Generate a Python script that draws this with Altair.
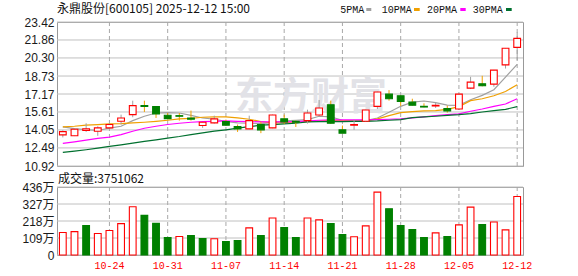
import altair as alt
import pandas as pd

# ---------------- data ----------------
dates = ["10-20", "10-21", "10-22", "10-23", "10-24", "10-27", "10-28", "10-29", "10-30", "10-31",
         "11-03", "11-04", "11-05", "11-06", "11-07", "11-10", "11-11", "11-12", "11-13", "11-14",
         "11-17", "11-18", "11-19", "11-20", "11-21", "11-24", "11-25", "11-26", "11-27", "11-28",
         "12-01", "12-02", "12-03", "12-04", "12-05", "12-08", "12-09", "12-10", "12-11", "12-12"]
opens = [13.62, 13.54, 14.00, 13.94, 14.23, 14.80, 15.38, 16.16, 16.07, 15.32,
         15.29, 15.09, 14.43, 14.66, 14.78, 14.34, 14.14, 14.52, 14.23, 15.01,
         14.80, 14.86, 15.35, 16.24, 14.06, 14.46, 14.80, 16.10, 17.16, 17.02,
         16.47, 16.10, 16.13, 15.90, 15.87, 17.68, 18.06, 18.03, 19.70, 21.22]
highs = [14.02, 14.15, 14.63, 14.37, 14.63, 15.38, 16.59, 16.59, 16.10, 15.52,
         15.52, 15.73, 14.75, 15.29, 14.95, 14.52, 15.29, 14.75, 15.38, 15.38,
         14.86, 15.81, 16.65, 16.59, 14.43, 14.95, 15.81, 17.37, 17.51, 17.05,
         16.76, 16.36, 16.39, 16.16, 17.19, 18.66, 18.75, 19.26, 21.16, 22.52]
lows = [13.40, 13.52, 13.88, 13.54, 14.17, 14.52, 15.15, 15.61, 15.09, 14.95,
        14.86, 14.86, 14.23, 14.60, 14.40, 13.88, 14.11, 13.77, 14.20, 14.57,
        14.31, 14.60, 15.21, 14.57, 13.74, 14.06, 14.75, 15.87, 16.59, 16.13,
        16.16, 16.01, 15.96, 15.55, 15.78, 17.60, 17.83, 17.80, 19.38, 20.10]
closes = [13.90, 14.11, 14.14, 14.23, 14.52, 15.09, 16.16, 16.10, 15.44, 15.03,
          15.24, 14.98, 14.72, 15.01, 14.46, 14.14, 14.86, 14.06, 15.35, 14.75,
          14.72, 15.52, 15.96, 14.63, 13.77, 14.52, 15.78, 17.34, 16.76, 16.53,
          16.19, 16.04, 16.19, 15.70, 17.16, 18.20, 17.88, 19.24, 21.14, 22.00]
ma5 = [14.31, 14.17, 14.08, 14.00, 14.20, 14.37, 14.86, 15.24, 15.52, 15.55,
       15.52, 15.32, 15.09, 14.98, 14.80, 14.66, 14.63, 14.60, 14.69, 14.83,
       14.89, 14.95, 15.24, 15.18, 14.89, 14.80, 14.86, 15.09, 15.58, 16.10,
       16.47, 16.56, 16.42, 16.21, 16.19, 16.67, 17.05, 17.54, 18.63, 19.75]
ma10 = [14.31, 14.37, 14.46, 14.52, 14.57, 14.60, 14.66, 14.72, 14.80, 14.89,
        15.01, 15.06, 15.15, 15.18, 15.18, 15.09, 14.98, 14.78, 14.66, 14.69,
        14.75, 14.78, 14.83, 14.89, 14.86, 14.83, 14.83, 15.01, 15.29, 15.55,
        15.64, 15.70, 15.73, 15.84, 16.07, 16.59, 16.76, 17.02, 17.39, 17.97]
ma20 = [12.88, 13.02, 13.16, 13.31, 13.42, 13.65, 13.94, 14.20, 14.37, 14.52,
        14.63, 14.72, 14.78, 14.80, 14.83, 14.80, 14.78, 14.75, 14.75, 14.75,
        14.78, 14.83, 14.89, 14.92, 14.92, 14.92, 14.92, 14.95, 14.98, 15.01,
        15.09, 15.18, 15.29, 15.38, 15.44, 15.67, 15.87, 16.10, 16.30, 16.76]
ma30 = [12.10, 12.21, 12.33, 12.47, 12.62, 12.76, 12.90, 13.05, 13.19, 13.34,
        13.48, 13.65, 13.80, 13.94, 14.06, 14.20, 14.34, 14.46, 14.52, 14.57,
        14.63, 14.75, 14.78, 14.78, 14.78, 14.80, 14.80, 14.83, 14.89, 14.95,
        15.12, 15.18, 15.24, 15.32, 15.38, 15.47, 15.61, 15.73, 15.84, 16.07]
volumes = [144, 150, 189, 138, 157, 201, 309, 254, 203, 112,
           119, 125, 106, 104, 87, 93, 174, 125, 237, 176,
           112, 237, 225, 201, 131, 117, 187, 403, 297, 189,
           163, 112, 142, 119, 193, 307, 195, 212, 161, 375]  # 万
vol_dir = ["up", "up", "down", "up", "up", "up", "up", "down", "down", "down",
           "up", "down", "down", "up", "down", "down", "up", "down", "up", "down",
           "down", "up", "up", "down", "down", "up", "up", "up", "down", "down",
           "down", "down", "up", "down", "up", "up", "down", "up", "up", "up"]

price_ticks = [10.92, 12.49, 14.05, 15.61, 17.17, 18.73, 20.30, 21.86, 23.42]
vol_ticks = [0, 109, 218, 327, 436]
week_ticks = ["10-24", "10-31", "11-07", "11-14", "11-21", "11-28", "12-05", "12-12"]
ma_fields = ["ma5", "ma10", "ma20", "ma30"]
ma_names = ["5PMA", "10PMA", "20PMA", "30PMA"]
title_text = "永鼎股份[600105] 2025-12-12 15:00"
vol_title = "成交量:3751062"
watermark = "东方财富"

# ---------------- styling ----------------
RED = "#ff0000"
GREEN = "#008000"
MA_COLORS = ["#a0a0a0", "#f0a000", "#ff00ff", "#00702f"]
GRID = "#c0c0c0"
VGRID = "#a8a8a8"
W, H1, H2 = 466, 144, 68
NUM_FONT = "Liberation Sans, Noto Sans CJK SC"
CJK_FONT = "Noto Sans CJK SC"
MONO = "Liberation Mono"

df = pd.DataFrame({
    "date": dates, "open": opens, "high": highs, "low": lows, "close": closes,
    "ma5": ma5, "ma10": ma10, "ma20": ma20, "ma30": ma30,
    "vol": volumes, "vdir": vol_dir,
})
df["dir"] = ["up" if c >= o else "down" for o, c in zip(opens, closes)]
price_grid = pd.DataFrame({"p": price_ticks})
vol_grid = pd.DataFrame({"v": vol_ticks})
week_df = pd.DataFrame({"date": week_ticks})

xscale = alt.Scale(domain=dates, paddingInner=0.42, paddingOuter=0.21)
x_top = alt.X("date:O", scale=xscale, axis=None)
yscale = alt.Scale(domain=[10.92, 23.42], nice=False, zero=False)
y_axis = alt.Axis(values=price_ticks, format=".2f", title=None)
vscale = alt.Scale(domain=[0, 436], nice=False)
v_axis = alt.Axis(values=vol_ticks,
                  labelExpr="datum.value == 0 ? '0' : datum.value + '万'", title=None)
stroke_scale = alt.Scale(domain=["up", "down"], range=[RED, GREEN])
fill_scale = alt.Scale(domain=["up", "down"], range=["#ffffff", GREEN])

base = alt.Chart(df)
one = lambda t: alt.Chart(pd.DataFrame({"t": [t]}))

# white anchors that pin the plot origin to whole pixels
anchor_left = one("a").mark_rule(color="#ffffff", strokeWidth=1).encode(
    x=alt.value(-41), x2=alt.value(-39), y=alt.value(60))
anchor_top = one("a").mark_rule(color="#ffffff", strokeWidth=1).encode(
    x=alt.value(150), y=alt.value(-21), y2=alt.value(-19))

# grid lines
hgrid_top = alt.Chart(price_grid).mark_rule(color=GRID, strokeWidth=1).encode(
    y=alt.Y("p:Q", scale=yscale, axis=y_axis))
week_rules = alt.Chart(week_df).mark_rule(color=VGRID, strokeDash=[4, 3], strokeWidth=1).encode(
    x=x_top)

wm = one(watermark).mark_text(fontSize=38, fontWeight="bold", color="#e2e2e7",
                              font=CJK_FONT, align="center", baseline="middle").encode(
    x=alt.value(254), y=alt.value(76), text="t:N")

ma_lines = base.transform_fold(ma_fields, as_=["ma", "val"]).mark_line(strokeWidth=1.2).encode(
    x=x_top,
    y=alt.Y("val:Q", scale=yscale, axis=y_axis),
    color=alt.Color("ma:N", scale=alt.Scale(domain=ma_fields, range=MA_COLORS), legend=None),
)

wicks = base.mark_rule(strokeWidth=1).encode(
    x=x_top, y=alt.Y("low:Q", scale=yscale, axis=y_axis), y2="high:Q",
    color=alt.Color("dir:N", scale=stroke_scale, legend=None))

bodies = base.mark_bar(strokeWidth=1.1).encode(
    x=x_top, y=alt.Y("open:Q", scale=yscale, axis=y_axis), y2="close:Q",
    fill=alt.Fill("dir:N", scale=fill_scale, legend=None),
    stroke=alt.Stroke("dir:N", scale=stroke_scale, legend=None))

title_mark = one(title_text).mark_text(align="left", baseline="middle", fontSize=12,
                                       font=CJK_FONT, color="#111111").encode(
    x=alt.value(0), y=alt.value(-13), text="t:N")

legend_text_x = [283.3, 324.7, 370.0, 415.7]
legend_bar_x = [(309.3, 314.3), (357.0, 362.7), (403.3, 408.7), (449.0, 454.7)]
legend_layers = []
for name, col, tx, (b0, b1) in zip(ma_names, MA_COLORS, legend_text_x, legend_bar_x):
    legend_layers.append(one(name).mark_text(align="left", baseline="middle", fontSize=10,
                                             font=MONO, color="#111111").encode(
        x=alt.value(tx), y=alt.value(-12), text="t:N"))
    legend_layers.append(one(name).mark_rule(strokeWidth=3, color=col).encode(
        x=alt.value(b0), x2=alt.value(b1), y=alt.value(-12.5)))

top = alt.layer(anchor_left, anchor_top, hgrid_top, week_rules, wm, ma_lines, wicks, bodies,
                title_mark, *legend_layers).properties(width=W, height=H1)

# ---------------- volume panel ----------------
vx = alt.X("date:O", scale=xscale,
           axis=alt.Axis(values=week_ticks, labelColor=RED, labelFont=MONO, labelFontSize=10,
                         labelPadding=5, grid=False, labelAngle=0, title=None))
hgrid_vol = alt.Chart(vol_grid).mark_rule(color=GRID, strokeWidth=1).encode(
    y=alt.Y("v:Q", scale=vscale, axis=v_axis))
week_rules_vol = alt.Chart(week_df).mark_rule(color=VGRID, strokeDash=[4, 3],
                                              strokeWidth=1).encode(x=vx)
vbars = base.mark_bar(strokeWidth=1.1).encode(
    x=vx, y=alt.Y("vol:Q", scale=vscale, axis=v_axis),
    fill=alt.Fill("vdir:N", scale=fill_scale, legend=None),
    stroke=alt.Stroke("vdir:N", scale=stroke_scale, legend=None))
vtitle = one(vol_title).mark_text(align="left", baseline="middle", fontSize=12,
                                  font=CJK_FONT, color="#111111").encode(
    x=alt.value(1), y=alt.value(-8), text="t:N")

bottom = alt.layer(anchor_left, hgrid_vol, week_rules_vol, vbars, vtitle).properties(
    width=W, height=H2)

chart = alt.vconcat(top, bottom, spacing=21, bounds="flush").properties(
    padding={"left": 15, "top": 0, "right": 4, "bottom": 0},
    background="#ffffff",
).configure_view(
    stroke="#999999", strokeWidth=1
).configure_axis(
    ticks=False, domain=False, labelOverlap=False, labelFlush=False, grid=False
).configure_axisY(
    labelPadding=3, labelFont=NUM_FONT, labelFontSize=12, labelColor="#1a1a1a"
)

chart.save("out.html", embed_options={"renderer": "svg", "actions": False})
